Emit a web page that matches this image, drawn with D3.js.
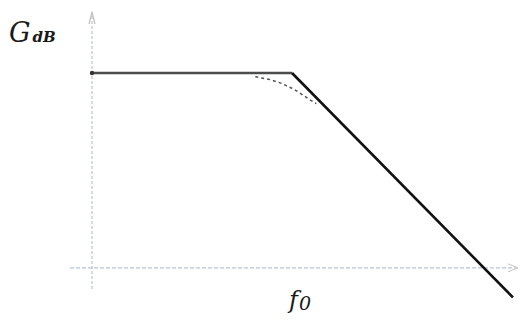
<!DOCTYPE html>
<html>
<head>
<meta charset="utf-8">
<script src="https://cdn.jsdelivr.net/npm/d3@7"></script>
<style>
  body { margin: 0; background: #fff; }
  svg { display: block; }
</style>
</head>
<body>
<div id="chart"></div>
<script>
// asymptotic response (log frequency, gain in dB)
const asymFreq = [0.01, 1, 162];
const asymGain = [0, 0, -44];

// real response near the corner (dotted)
const realFreq = [0.43, 0.5, 0.6, 0.7, 0.8, 0.9, 1.0, 1.15, 1.3, 1.5, 1.75];
const realGain = [-0.7, -1.0, -1.3, -1.7, -2.1, -2.6, -3.0, -3.7, -4.4, -5.2, -6.0];

const axisGain = -38.2;
const cornerFreq = 1;

function drawChart() {
  const width = 525;
  const height = 325;

  const svg = d3.select("#chart")
    .append("svg")
    .attr("width", width)
    .attr("height", height);

  const xScale = d3.scaleLog()
    .domain([0.01, 100])
    .range([92, 292 + 200]);

  const yScale = d3.scaleLinear()
    .domain([0, -40])
    .range([73, 73 + 204]);

  const axisColor = "#b8c3d8";

  // y axis
  const x0 = xScale(0.01);
  svg.append("line")
    .attr("x1", x0).attr("x2", x0)
    .attr("y1", 16).attr("y2", 290)
    .attr("stroke", axisColor)
    .attr("stroke-width", 1.2)
    .attr("stroke-dasharray", "3,2");
  svg.append("path")
    .attr("d", `M${x0 - 3},${24} L${x0},${12} L${x0 + 3},${24}`)
    .attr("fill", "none")
    .attr("stroke", "#c4bfb8")
    .attr("stroke-width", 1.2);

  // x axis
  const yAxisPos = yScale(axisGain);
  svg.append("line")
    .attr("x1", 70).attr("x2", 516)
    .attr("y1", yAxisPos).attr("y2", yAxisPos)
    .attr("stroke", axisColor)
    .attr("stroke-width", 1.2)
    .attr("stroke-dasharray", "4,2");
  svg.append("path")
    .attr("d", `M${508},${yAxisPos - 4} L${518},${yAxisPos} L${508},${yAxisPos + 4}`)
    .attr("fill", "none")
    .attr("stroke", "#c4c4c4")
    .attr("stroke-width", 1);

  // dotted real curve
  const line = d3.line()
    .x((d) => xScale(d[0]))
    .y((d) => yScale(d[1]))
    .curve(d3.curveMonotoneX);

  svg.append("path")
    .datum(realFreq.map((f, i) => [f, realGain[i]]))
    .attr("d", line)
    .attr("fill", "none")
    .attr("stroke", "#555")
    .attr("stroke-width", 1.5)
    .attr("stroke-dasharray", "3,3");

  // asymptotes
  const straight = d3.line()
    .x((d) => xScale(d[0]))
    .y((d) => yScale(d[1]));

  const pts = asymFreq.map((f, i) => [f, asymGain[i]]);

  svg.append("path")
    .datum(pts.slice(0, 2))
    .attr("d", straight)
    .attr("fill", "none")
    .attr("stroke", "#4a4d4c")
    .attr("stroke-width", 2.6);

  svg.append("path")
    .datum(pts.slice(1))
    .attr("d", straight)
    .attr("fill", "none")
    .attr("stroke", "#111")
    .attr("stroke-width", 2.6);

  svg.append("circle")
    .attr("cx", xScale(asymFreq[0]))
    .attr("cy", yScale(asymGain[0]))
    .attr("r", 2.2)
    .attr("fill", "#333");

  // labels
  const gLabel = svg.append("text")
    .attr("x", 9)
    .attr("y", 42)
    .attr("font-family", "DejaVu Serif")
    .attr("font-style", "italic")
    .attr("fill", "#1a1a1a");
  gLabel.append("tspan").attr("font-size", 27).text("G");
  gLabel.append("tspan").attr("font-size", 15).attr("font-weight", "bold").attr("dx", 2).text("dB");

  const fLabel = svg.append("text")
    .attr("x", xScale(cornerFreq) - 3)
    .attr("y", 308)
    .attr("font-family", "DejaVu Serif")
    .attr("font-style", "italic")
    .attr("fill", "#1a1a1a");
  fLabel.append("tspan").attr("font-size", 24).text("f");
  fLabel.append("tspan").attr("font-size", 19).attr("dx", 1).attr("dy", 2).text("0");
}

drawChart();
</script>
</body>
</html>
